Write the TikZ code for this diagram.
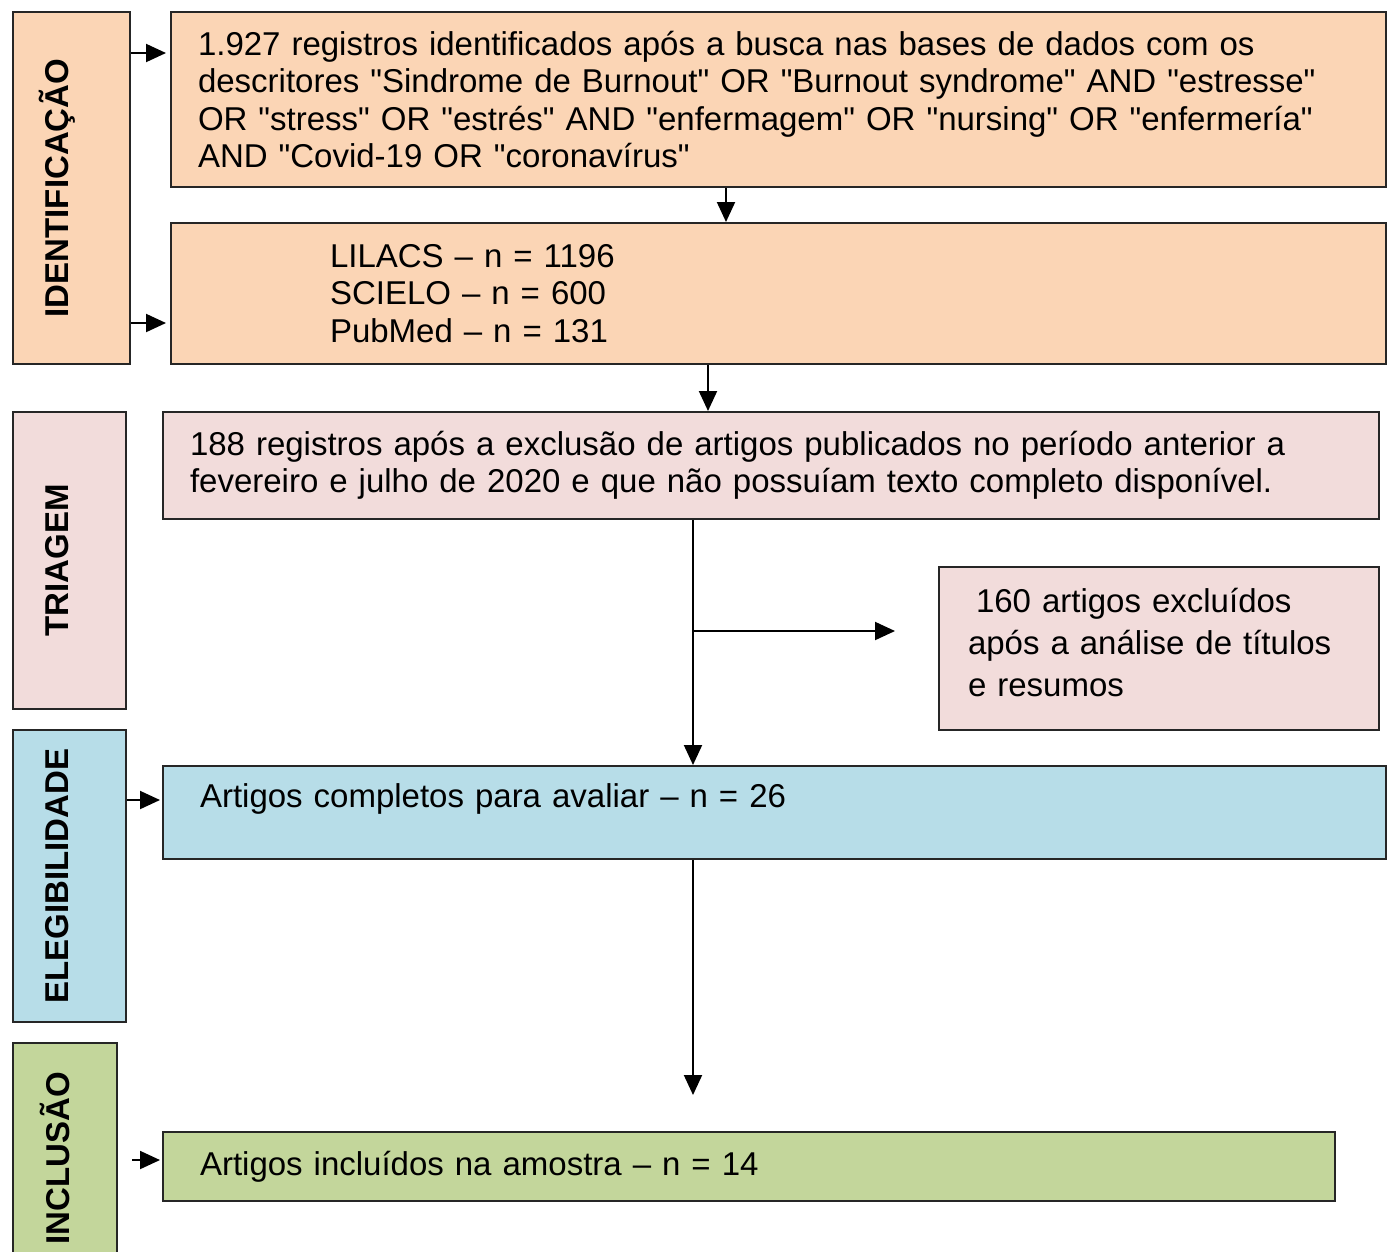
\documentclass[tikz,border=0pt]{standalone}
\usepackage{fontspec}
\setmainfont{Liberation Sans}
\usepackage{graphicx}
\usetikzlibrary{arrows.meta,positioning}
\definecolor{idcol}{RGB}{251,213,181}
\definecolor{trcol}{RGB}{242,220,219}
\definecolor{elcol}{RGB}{183,221,232}
\definecolor{incol}{RGB}{195,214,155}
\newcommand{\spread}[2]{\makebox[#1pt][s]{#2}}
\newcommand{\dq}{\XeTeXglyph\XeTeXcharglyph"22\relax}

\begin{document}
\begin{tikzpicture}[x=1pt,y=-1pt,
  box/.style={draw=black!85,line width=2pt,anchor=north west,align=left,inner ysep=0pt,
    font=\fontsize{33}{37.5}\selectfont},
  side/.style={draw=black!85,line width=2pt,anchor=north west,inner sep=0pt,
    font=\bfseries\fontsize{33}{38}\selectfont},
  arr/.style={-{Triangle[length=20pt,width=18pt]},line width=2pt}]
  \useasboundingbox (0,0) rectangle (1391,1251);
  % fases
  \node[side,fill=idcol,minimum width=117pt,minimum height=352pt] (ident) at (12,11)
    {\rotatebox{90}{IDENTIFICAÇÃO}\kern28pt};
  \node[side,fill=trcol,minimum width=113pt,minimum height=297pt] (triag) at (12,411)
    {\rotatebox{90}{TRIAGEM}\kern24pt};
  \node[side,fill=elcol,minimum width=113pt,minimum height=292pt] (elig) at (12,729)
    {\rotatebox{90}{ELEGIBILIDADE}\kern24pt};
  \node[side,fill=incol,minimum width=104pt,minimum height=230pt] (incl) at (12,1042)
    {\rotatebox{90}{INCLUSÃO}\kern20pt};
  % caixas
  \node[box,fill=idcol,minimum width=1215pt,minimum height=175pt,inner xsep=27pt,text width=1161pt] (busca) at (170,11)
    {\spread{1061}{1.927 registros identificados após a busca nas bases de dados com os}\\
     \spread{1125}{descritores \dq Sindrome de Burnout\dq{} OR \dq Burnout syndrome\dq{} AND \dq estresse\dq}\\
     \spread{1108}{OR \dq stress\dq{} OR \dq estrés\dq{} AND \dq enfermagem\dq{} OR \dq nursing\dq{} OR \dq enfermería\dq}\\
     AND \dq Covid-19 OR \dq coronavírus\dq};
  \node[box,fill=idcol,minimum width=1215pt,minimum height=141pt,inner xsep=159pt,text width=897pt] (bases) at (170,222)
    {LILACS -- n = 1196\\ SCIELO -- n = 600\\ PubMed -- n = 131};
  \node[box,fill=trcol,minimum width=1216pt,minimum height=107pt,inner xsep=27pt,text width=1162pt] (regs) at (162,411)
    {\spread{1101}{188 registros após a exclusão de artigos publicados no período anterior a}\\
     \spread{1077}{fevereiro e julho de 2020 e que não possuíam texto completo disponível.}};
  \node[box,fill=trcol,minimum width=440pt,minimum height=163pt,inner xsep=29pt,text width=382pt,
    text depth=96pt,font=\fontsize{33}{42}\selectfont] (excl) at (938,566)
    {\hspace*{8pt}\spread{316}{160 artigos excluídos}\\
     \spread{360}{após a análise de títulos}\\ e resumos};
  \node[box,fill=elcol,minimum width=1223pt,minimum height=93pt,inner xsep=37pt,text width=1149pt,text depth=33pt] (compl) at (162,765)
    {\spread{585}{Artigos completos para avaliar -- n = 26}};
  \node[box,fill=incol,minimum width=1172pt,minimum height=69pt,inner xsep=37pt,text width=1098pt] (amost) at (162,1131)
    {\spread{557}{Artigos incluídos na amostra -- n = 14}};
  % setas
  \draw[arr,shorten >=4pt] (ident.east |- 0,53) -- (busca.west |- 0,53);
  \draw[arr,shorten >=4pt] (ident.east |- 0,323) -- (bases.west |- 0,323);
  \draw[arr] (busca.south -| 726,0) -- (bases.north -| 726,0);
  \draw[arr] (bases.south -| 708,0) -- (regs.north -| 708,0);
  \draw[arr] (regs.south -| 693,0) -- (compl.north -| 693,0);
  \coordinate (ramo) at (693,631);
  \draw[arr,shorten >=43pt] (ramo) -- (excl.west |- ramo);
  \draw[arr,shorten >=2pt] (elig.east |- 0,800) -- (compl.west |- 0,800);
  \draw[arr,shorten >=36pt] (compl.south -| 693,0) -- (amost.north -| 693,0);
  \draw[arr,shorten <=14pt,shorten >=2pt] (incl.east |- 0,1160) -- (amost.west |- 0,1160);
\end{tikzpicture}
\end{document}
